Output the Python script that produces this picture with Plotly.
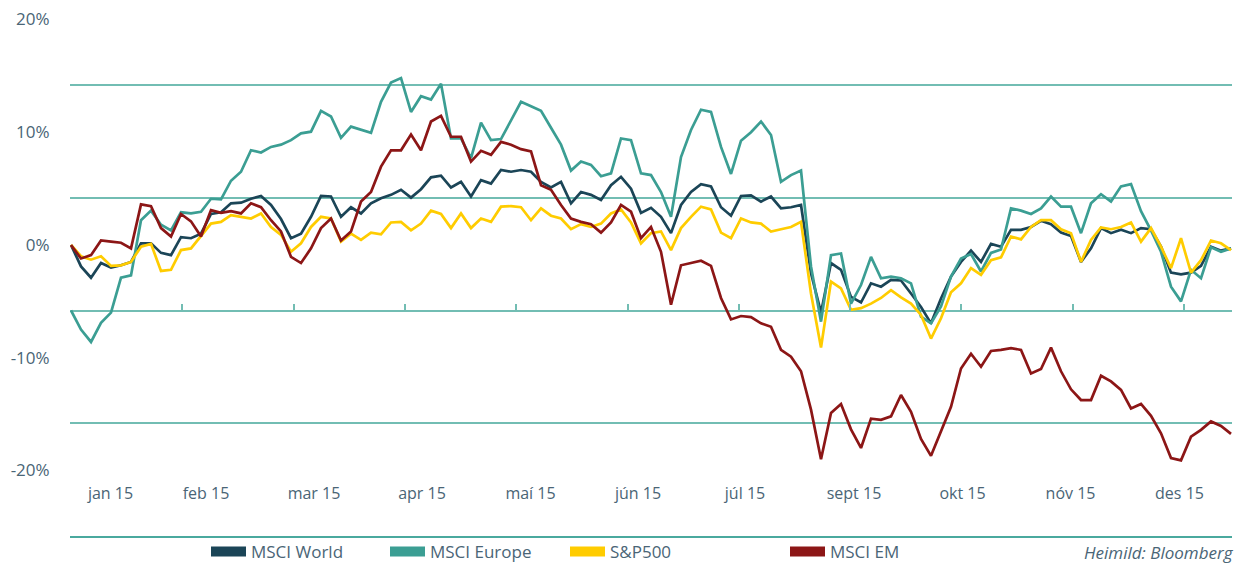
import numpy as np
import plotly.graph_objects as go

# ---------------- data (percent change, sampled along the year) ----------------
MSCI_WORLD = [0.0, -1.9, -2.9, -1.6, -2.0, -1.8, -1.5, 0.15, 0.15, -0.7,
              -0.9, 0.7, 0.6, 1.0, 2.75, 2.9, 3.7, 3.75, 4.1, 4.35,
              3.55, 2.3, 0.6, 1.0, 2.5, 4.35, 4.3, 2.5, 3.35, 2.8,
              3.7, 4.15, 4.45, 4.9, 4.2, 4.95, 6.0, 6.15, 5.1, 5.6,
              4.3, 5.75, 5.45, 6.65, 6.5, 6.65, 6.5, 5.6, 5.1, 5.6,
              3.7, 4.7, 4.45, 4.0, 5.3, 6.05, 5.0, 2.85, 3.3, 2.5,
              1.05, 3.55, 4.7, 5.4, 5.2, 3.35, 2.6, 4.35, 4.4, 3.85,
              4.3, 3.25, 3.35, 3.55, -2.5, -6.0, -1.6, -2.2, -4.6, -5.1,
              -3.4, -3.7, -3.1, -3.15, -4.3, -5.5, -6.95, -4.75, -2.8, -1.5,
              -0.5, -1.5, 0.1, -0.15, 1.35, 1.35, 1.6, 2.15, 1.85, 1.1,
              0.8, -1.5, -0.3, 1.5, 1.05, 1.35, 1.05, 1.5, 1.4, -0.15,
              -2.45, -2.6, -2.45, -1.85, -0.15, -0.5, -0.3]

MSCI_EUROPE = [-5.8, -7.5, -8.6, -6.9, -6.0, -2.9, -2.7, 2.2, 3.05, 1.8,
               1.3, 2.9, 2.8, 2.95, 4.1, 4.05, 5.7, 6.5, 8.4, 8.2,
               8.7, 8.9, 9.3, 9.9, 10.05, 11.9, 11.4, 9.5, 10.5, 10.2,
               9.95, 12.7, 14.4, 14.8, 11.8, 13.2, 12.9, 14.3, 9.45, 9.45,
               7.7, 10.85, 9.3, 9.4, 11.1, 12.7, 12.3, 11.9, 10.4, 8.9,
               6.6, 7.4, 7.1, 6.1, 6.35, 9.45, 9.3, 6.35, 6.2, 4.7,
               2.5, 7.8, 10.2, 12.0, 11.8, 8.7, 6.3, 9.25, 10.0, 10.95,
               9.75, 5.6, 6.2, 6.6, -1.9, -6.8, -0.9, -0.75, -5.2, -3.55,
               -1.05, -2.95, -2.8, -2.95, -3.4, -6.35, -6.95, -5.45, -2.8, -1.2,
               -0.8, -2.35, -0.7, -0.4, 3.25, 3.05, 2.75, 3.25, 4.3, 3.4,
               3.4, 1.05, 3.7, 4.5, 3.85, 5.2, 5.4, 3.0, 1.3, -0.6,
               -3.7, -5.0, -2.2, -2.95, -0.2, -0.6, -0.3]

SP500 = [0.0, -1.0, -1.3, -1.0, -1.85, -1.8, -1.5, -0.15, 0.1, -2.3,
         -2.2, -0.45, -0.3, 0.8, 1.9, 2.05, 2.65, 2.5, 2.35, 2.8,
         1.6, 0.9, -0.6, 0.15, 1.6, 2.5, 2.35, 0.3, 1.0, 0.45,
         1.1, 0.95, 2.0, 2.05, 1.3, 1.9, 3.05, 2.75, 1.5, 2.8,
         1.5, 2.35, 2.05, 3.4, 3.45, 3.35, 2.2, 3.25, 2.6, 2.35,
         1.4, 1.85, 1.6, 1.9, 2.8, 3.15, 2.0, 0.15, 1.05, 1.2,
         -0.45, 1.5, 2.5, 3.4, 3.15, 1.1, 0.6, 2.35, 2.0, 1.9,
         1.2, 1.4, 1.6, 2.05, -4.3, -9.1, -3.25, -3.85, -5.75, -5.6,
         -5.2, -4.7, -4.0, -4.65, -5.2, -6.2, -8.3, -6.5, -4.2, -3.4,
         -2.05, -2.65, -1.35, -1.1, 0.75, 0.5, 1.6, 2.2, 2.2, 1.4,
         1.05, -1.5, 0.45, 1.55, 1.4, 1.6, 2.0, 0.3, 1.5, -0.15,
         -2.05, 0.6, -2.45, -1.35, 0.4, 0.15, -0.45]

MSCI_EM = [0.0, -1.2, -0.9, 0.4, 0.3, 0.2, -0.3, 3.6, 3.45, 1.5,
           0.75, 2.75, 2.1, 0.75, 3.1, 2.85, 3.0, 2.8, 3.7, 3.35,
           2.2, 1.2, -1.05, -1.6, -0.3, 1.5, 2.35, 0.4, 1.2, 3.85,
           4.7, 6.95, 8.4, 8.4, 9.8, 8.4, 10.95, 11.45, 9.6, 9.6,
           7.4, 8.35, 8.0, 9.15, 8.9, 8.5, 8.3, 5.3, 4.9, 3.55,
           2.35, 2.05, 1.85, 1.1, 2.0, 3.55, 2.95, 0.6, 1.6, -0.6,
           -5.3, -1.8, -1.6, -1.4, -1.85, -4.7, -6.6, -6.3, -6.4, -6.95,
           -7.25, -9.3, -9.9, -11.2, -14.6, -19.0, -14.9, -14.1, -16.35, -18.0,
           -15.4, -15.5, -15.2, -13.3, -14.8, -17.2, -18.7, -16.55, -14.35, -10.95,
           -9.65, -10.8, -9.4, -9.3, -9.15, -9.3, -11.4, -11.0, -9.1, -11.2,
           -12.8, -13.75, -13.75, -11.6, -12.1, -12.85, -14.5, -14.1, -15.15, -16.7,
           -18.9, -19.1, -17.0, -16.4, -15.65, -16.05, -16.75]

SERIES_NAMES = ["MSCI World", "MSCI Europe", "S&P500", "MSCI EM"]
MONTH_LABELS = ["jan 15", "feb 15", "mar 15", "apr 15", "maí 15", "jún 15",
                "júl 15", "sept 15", "okt 15", "nóv 15", "des 15"]
MONTH_POS = [3.95, 13.5, 24.3, 35.1, 45.95, 56.7, 67.4, 78.3, 89.15, 99.95, 110.85]
Y_LABEL_VALUES = [20, 10, 0, -10, -20]
Y_LABEL_TEXT = ["20%", "10%", "0%", "-10%", "-20%"]
GRID_VALUES = [14.15, 4.17, -5.81, -15.79]
TICK_LINE_LEVEL = -5.81
TICK_STEP = 11.13
SOURCE = "Heimild: Bloomberg"

# ---------------- styling ----------------
COLORS = ["#1b4557", "#3b9e93", "#ffcc00", "#8c1616"]
TEXT = "#4a6576"
GRID = "#72bdb3"
AXIS = "#4aa99e"
FONT = "Open Sans"
Y_RANGE = [-25.81, 21.73]
X_RANGE = [-0.1, 116.1]

x = np.arange(len(MSCI_WORLD))
series = [MSCI_WORLD, MSCI_EUROPE, SP500, MSCI_EM]

fig = go.Figure()
for i, (name, vals, col) in enumerate(zip(SERIES_NAMES, series, COLORS)):
    on_second = (i == 3)
    fig.add_trace(go.Scatter(
        x=x, y=vals, mode="lines", name=name, showlegend=False,
        legendgroup=name,
        line=dict(color=col, width=2.7),
        xaxis="x2" if on_second else "x",
        yaxis="y2" if on_second else "y",
        hoverinfo="skip"))

# legend entries (thick bars), one legend each so that spacing matches
LEGEND_PX = [206, 385, 565, 785]
legend_keys = ["legend", "legend2", "legend3", "legend4"]
for name, col, key in zip(SERIES_NAMES, COLORS, legend_keys):
    fig.add_trace(go.Scatter(
        x=[None], y=[None], mode="lines", name=name, legendgroup=name,
        line=dict(color=col, width=10), legend=key, showlegend=True))

plot_w = 1245 - 70 - 13
legend_y = -(552 - 536) / 536
legend_layout = {}
for key, px in zip(legend_keys, LEGEND_PX):
    legend_layout[key] = dict(
        orientation="h", x=(px - 70) / plot_w, xanchor="left",
        y=legend_y, yanchor="middle", itemwidth=35,
        font=dict(family=FONT, size=17, color=TEXT),
        bgcolor="rgba(0,0,0,0)", borderwidth=0)

tick_pos = (TICK_LINE_LEVEL - Y_RANGE[0]) / (Y_RANGE[1] - Y_RANGE[0])

fig.update_layout(
    width=1245, height=566,
    margin=dict(l=70, r=13, t=0, b=30, autoexpand=False),
    paper_bgcolor="white", plot_bgcolor="white",
    font=dict(family=FONT, color=TEXT, size=16),
    xaxis=dict(range=X_RANGE, tickmode="array", tickvals=MONTH_POS,
               ticktext=MONTH_LABELS, ticks="", showgrid=False, zeroline=False,
               showline=True, linecolor=AXIS, linewidth=1.5,
               ticklabelposition="inside", ticklabelstandoff=34,
               tickfont=dict(family=FONT, size=16, color=TEXT)),
    yaxis=dict(range=Y_RANGE, tickmode="array", tickvals=GRID_VALUES,
               showticklabels=False, showgrid=True, gridcolor=GRID,
               gridwidth=1.5, zeroline=False, ticks=""),
    xaxis2=dict(overlaying="x", range=X_RANGE, anchor="free", position=tick_pos,
                tickmode="linear", tick0=0, dtick=TICK_STEP, ticks="inside",
                ticklen=7, tickwidth=1.5, tickcolor=GRID, showticklabels=False,
                showgrid=False, zeroline=False, showline=False),
    yaxis2=dict(overlaying="y", range=Y_RANGE, anchor="x", side="left",
                tickmode="array", tickvals=Y_LABEL_VALUES, ticktext=Y_LABEL_TEXT,
                ticks="outside", ticklen=16, tickcolor="rgba(0,0,0,0)",
                showgrid=False, zeroline=False, showline=False,
                tickfont=dict(family=FONT, size=17, color=TEXT)),
    annotations=[dict(text="<i>" + SOURCE + "</i>", xref="paper", yref="paper",
                      x=1.0, xanchor="right", xshift=4, y=legend_y,
                      yanchor="middle", showarrow=False,
                      font=dict(family=FONT, size=17, color=TEXT))],
    **legend_layout,
)

fig.write_html("out.html", include_plotlyjs=True,
               config={"displayModeBar": False},
               post_script="document.body.style.margin='0';document.body.style.overflow='hidden';")
